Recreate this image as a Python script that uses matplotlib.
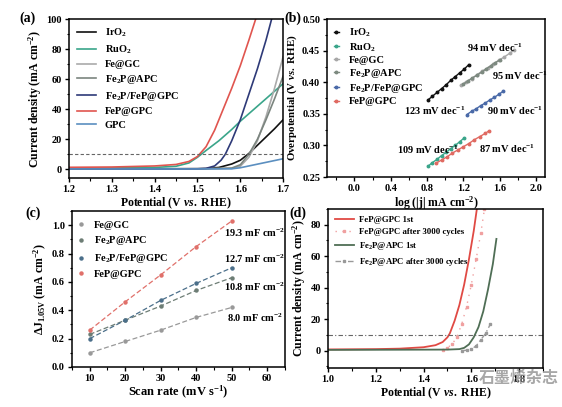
import matplotlib
matplotlib.use("Agg")
import matplotlib.pyplot as plt
from matplotlib.ticker import MultipleLocator, FormatStrFormatter

plt.rcParams['font.family'] = ['Liberation Serif', 'DejaVu Serif']
plt.rcParams['font.weight'] = 'bold'
plt.rcParams['axes.labelweight'] = 'bold'
plt.rcParams['mathtext.fontset'] = 'custom'
plt.rcParams['mathtext.rm'] = 'Liberation Serif:bold'
plt.rcParams['mathtext.it'] = 'Liberation Serif:italic:bold'
plt.rcParams['mathtext.bf'] = 'Liberation Serif:bold'
plt.rcParams['axes.linewidth'] = 1.1

# ---------------- Panel (a) data: LSV curves ----------------
irO2_v = [1.20, 1.40, 1.52, 1.55, 1.58, 1.60, 1.62, 1.64, 1.66, 1.68, 1.70]
irO2_j = [0.3, 0.3, 0.4, 1.2, 3.5, 6.0, 10.5, 16.0, 21.5, 27.0, 33.0]
ruO2_v = [1.20, 1.40, 1.45, 1.48, 1.50, 1.52, 1.55, 1.58, 1.60, 1.63, 1.66, 1.70]
ruO2_j = [0.5, 1.2, 2.0, 4.2, 8.0, 12.5, 19.0, 26.5, 32.0, 39.5, 47.0, 57.0]
fegc_v = [1.20, 1.50, 1.58, 1.60, 1.62, 1.64, 1.66, 1.68, 1.70]
fegc_j = [0.3, 0.3, 0.5, 2.0, 8.0, 19.0, 35.0, 54.0, 75.0]
fe2p_v = [1.20, 1.50, 1.58, 1.60, 1.62, 1.64, 1.66, 1.68, 1.70]
fe2p_j = [0.3, 0.3, 0.8, 3.0, 10.0, 20.0, 33.0, 47.0, 62.0]
fe2pfep_v = [1.20, 1.50, 1.52, 1.54, 1.555, 1.565, 1.58, 1.60, 1.62, 1.64, 1.66, 1.674]
fe2pfep_j = [0.2, 0.3, 0.6, 2.2, 6.0, 10.0, 19.0, 33.0, 50.0, 67.0, 86.0, 101.0]
fep_v = [1.20, 1.30, 1.40, 1.45, 1.48, 1.50, 1.52, 1.54, 1.56, 1.58, 1.60, 1.62, 1.637]
fep_j = [1.3, 1.5, 2.2, 3.2, 5.2, 8.5, 15.0, 26.0, 40.0, 54.0, 69.0, 86.0, 101.0]
gpc_v = [1.20, 1.50, 1.58, 1.60, 1.65, 1.70]
gpc_j = [0.2, 0.2, 0.3, 1.0, 4.0, 7.0]

# ---------------- Panel (b) data: Tafel plots ----------------
tafel_ir_x = [0.81, 0.86, 0.91, 0.96, 1.01, 1.06, 1.11, 1.16, 1.21, 1.26]
tafel_ir_y = [0.372, 0.378, 0.384, 0.390, 0.396, 0.403, 0.409, 0.415, 0.421, 0.428]
tafel_ru_x = [0.81, 0.86, 0.91, 0.96, 1.01, 1.06, 1.11, 1.16, 1.21]
tafel_ru_y = [0.267, 0.273, 0.278, 0.284, 0.289, 0.295, 0.300, 0.306, 0.312]
tafel_fegc_x = [1.17, 1.23, 1.29, 1.35, 1.41, 1.47, 1.53, 1.59, 1.65, 1.71, 1.76]
tafel_fegc_y = [0.395, 0.401, 0.406, 0.412, 0.418, 0.423, 0.429, 0.435, 0.440, 0.446, 0.451]
tafel_fe2p_x = [1.20, 1.25, 1.30, 1.35, 1.40, 1.45, 1.50, 1.55, 1.60]
tafel_fe2p_y = [0.397, 0.402, 0.407, 0.411, 0.416, 0.421, 0.426, 0.431, 0.435]
tafel_fe2pfep_x = [1.24, 1.29, 1.34, 1.39, 1.44, 1.49, 1.54, 1.59, 1.64]
tafel_fe2pfep_y = [0.349, 0.354, 0.358, 0.363, 0.367, 0.372, 0.376, 0.381, 0.386]
tafel_fep_x = [0.90, 0.96, 1.02, 1.08, 1.14, 1.20, 1.26, 1.32, 1.38, 1.44, 1.48]
tafel_fep_y = [0.272, 0.277, 0.282, 0.288, 0.293, 0.298, 0.303, 0.309, 0.314, 0.319, 0.323]
tafel_labels = ["94 mV dec$^{-1}$", "95 mV dec$^{-1}$", "123 mV dec$^{-1}$",
                "90 mV dec$^{-1}$", "109 mV dec$^{-1}$", "87 mV dec$^{-1}$"]

# ---------------- Panel (c) data: double-layer capacitance ----------------
scan_rate = [10, 20, 30, 40, 50]
dj_fegc = [0.10, 0.18, 0.26, 0.35, 0.42]
dj_fe2p = [0.23, 0.33, 0.43, 0.54, 0.63]
dj_fe2pfep = [0.20, 0.33, 0.47, 0.59, 0.70]
dj_fep = [0.26, 0.46, 0.65, 0.85, 1.03]
cdl_labels = ["19.3 mF cm$^{-2}$", "12.7 mF cm$^{-2}$", "10.8 mF cm$^{-2}$", "8.0 mF cm$^{-2}$"]

# ---------------- Panel (d) data: stability ----------------
d_fep1_v = [1.00, 1.20, 1.30, 1.40, 1.45, 1.48, 1.50, 1.51, 1.53, 1.55, 1.57, 1.59, 1.61, 1.625]
d_fep1_j = [0.8, 1.0, 1.3, 2.2, 3.5, 5.5, 8.5, 11.0, 19.0, 29.0, 42.0, 58.0, 76.0, 92.0]
d_fep2_v = [1.48, 1.50, 1.52, 1.54, 1.56, 1.58, 1.60, 1.62, 1.64, 1.655]
d_fep2_j = [0.5, 2.0, 4.0, 9.0, 17.0, 28.0, 42.0, 58.0, 75.0, 90.0]
d_fe2p1_v = [1.00, 1.50, 1.55, 1.57, 1.59, 1.61, 1.63, 1.65, 1.67, 1.69, 1.705]
d_fe2p1_j = [0.5, 0.7, 1.0, 1.8, 4.0, 8.5, 15.0, 25.0, 39.0, 55.0, 71.0]
d_fe2p2_v = [1.56, 1.58, 1.60, 1.62, 1.64, 1.66, 1.68]
d_fe2p2_j = [0.0, 0.3, 1.0, 3.0, 7.0, 11.0, 17.0]

C_IR, C_RU, C_FEGC, C_FE2P = '#111111', '#3aa58a', '#aaaaaa', '#7b857f'
C_FE2PFEP, C_FEP, C_GPC = '#2e3a78', '#e0554f', '#5b8fc0'

fig = plt.figure(figsize=(5.62, 4.07), dpi=100)
fig.patch.set_facecolor('white')

def style(ax, xmaj, xmin, ymaj, ymin):
    ax.xaxis.set_major_locator(MultipleLocator(xmaj))
    ax.xaxis.set_minor_locator(MultipleLocator(xmin))
    ax.yaxis.set_major_locator(MultipleLocator(ymaj))
    ax.yaxis.set_minor_locator(MultipleLocator(ymin))
    ax.tick_params(which='major', direction='out', length=3, width=1, labelsize=7.5, pad=2)
    ax.tick_params(which='minor', direction='out', length=1.8, width=0.8)
    for lab in ax.get_xticklabels() + ax.get_yticklabels():
        lab.set_fontweight('bold')

# ---- (a)
axa = fig.add_axes([0.1228, 0.562, 0.381, 0.391])
axa.plot(irO2_v, irO2_j, color=C_IR, lw=1.2, label='IrO$_\\mathregular{2}$')
axa.plot(ruO2_v, ruO2_j, color=C_RU, lw=1.2, label='RuO$_\\mathregular{2}$')
axa.plot(fegc_v, fegc_j, color=C_FEGC, lw=1.2, label='Fe@GC')
axa.plot(fe2p_v, fe2p_j, color=C_FE2P, lw=1.2, label='Fe$_\\mathregular{2}$P@APC')
axa.plot(fe2pfep_v, fe2pfep_j, color=C_FE2PFEP, lw=1.2, label='Fe$_\\mathregular{2}$P/FeP@GPC')
axa.plot(fep_v, fep_j, color=C_FEP, lw=1.2, label='FeP@GPC')
axa.plot(gpc_v, gpc_j, color=C_GPC, lw=1.2, label='GPC')
axa.axhline(10, color='#666666', lw=0.8, ls=(0, (3, 2)))
axa.set_xlim(1.2, 1.7)
axa.set_ylim(-6, 100)
style(axa, 0.1, 0.05, 20, 10)
axa.set_xlabel('Potential (V $\\mathit{vs.}$ RHE)', fontsize=8.5, labelpad=1)
axa.set_ylabel('Current density (mA cm$^{-2}$)', fontsize=8.5, labelpad=2)
axa.legend(loc='upper left', frameon=False, fontsize=7.5, handlelength=1.8,
           labelspacing=0.38, borderaxespad=0.35, handletextpad=0.9)
fig.text(0.035, 0.955, '(a)', fontsize=10, fontweight='bold', va='center')

# ---- (b)
axb = fig.add_axes([0.582, 0.565, 0.388, 0.388])
axb.plot(tafel_ir_x, tafel_ir_y, color=C_IR, lw=1, marker='o', ms=1.8, label='IrO$_\\mathregular{2}$')
axb.plot(tafel_ru_x, tafel_ru_y, color='#3aa58a', lw=1, marker='o', ms=1.8, label='RuO$_\\mathregular{2}$')
axb.plot(tafel_fegc_x, tafel_fegc_y, color='#a8a8a8', lw=1, marker='o', ms=1.8, label='Fe@GC')
axb.plot(tafel_fe2p_x, tafel_fe2p_y, color='#7d8a80', lw=1, marker='o', ms=1.8, label='Fe$_\\mathregular{2}$P@APC')
axb.plot(tafel_fe2pfep_x, tafel_fe2pfep_y, color='#4a6aa8', lw=1, marker='o', ms=1.8, label='Fe$_\\mathregular{2}$P/FeP@GPC')
axb.plot(tafel_fep_x, tafel_fep_y, color='#e06a62', lw=1, marker='o', ms=1.8, label='FeP@GPC')
axb.set_xlim(-0.3, 2.1)
axb.set_ylim(0.25, 0.50)
style(axb, 0.4, 0.2, 0.05, 0.025)
axb.yaxis.set_major_formatter(FormatStrFormatter('%.2f'))
axb.xaxis.set_major_formatter(FormatStrFormatter('%.1f'))
axb.set_xlabel('log (|j| mA cm$^{-2}$)', fontsize=8.5, labelpad=1)
axb.set_ylabel('Overpotential (V $\\mathit{vs.}$ RHE)', fontsize=7.8, labelpad=2)
axb.legend(loc='upper left', frameon=False, fontsize=7.5, handlelength=0.4, numpoints=1,
           labelspacing=0.2, borderaxespad=0.3, handletextpad=1.0)
txtpos_b = [(1.24, 0.455), (1.51, 0.411), (0.55, 0.355), (1.455, 0.355), (0.475, 0.293), (1.37, 0.295)]
for (tx, ty), s in zip(txtpos_b, tafel_labels):
    axb.text(tx, ty, s, fontsize=7.5, fontweight='bold', va='center', ha='left')
fig.text(0.506, 0.955, '(b)', fontsize=10, fontweight='bold', va='center')

# ---- (c)
axc = fig.add_axes([0.128, 0.0983, 0.379, 0.383])
axc.plot(scan_rate, dj_fegc, color='#999999', lw=0.9, ls=(0, (4, 2)), marker='o', ms=2.2, label='Fe@GC')
axc.plot(scan_rate, dj_fe2p, color='#6d7d75', lw=0.9, ls=(0, (4, 2)), marker='o', ms=2.2, label='Fe$_\\mathregular{2}$P@APC')
axc.plot(scan_rate, dj_fe2pfep, color='#4b6f8a', lw=0.9, ls=(0, (4, 2)), marker='o', ms=2.2, label='Fe$_\\mathregular{2}$P/FeP@GPC')
axc.plot(scan_rate, dj_fep, color='#e0706a', lw=0.9, ls=(0, (4, 2)), marker='o', ms=2.2, label='FeP@GPC')
axc.set_xlim(5, 65)
axc.set_ylim(0, 1.1)
style(axc, 10, 5, 0.2, 0.1)
axc.yaxis.set_major_formatter(FormatStrFormatter('%.1f'))
axc.set_xlabel('Scan rate (mV s$^{-1}$)', fontsize=9, labelpad=1)
axc.set_ylabel('$\\Delta$J$_\\mathregular{1.05V}$ (mA cm$^{-2}$)', fontsize=8.5, labelpad=2)
axc.legend(loc='upper left', frameon=False, fontsize=7.5, handlelength=0.0,
           labelspacing=0.45, borderaxespad=0.5, handletextpad=1.2)
txtpos_c = [(47.7, 0.948), (47.7, 0.761), (47.7, 0.569), (48.6, 0.344)]
for (tx, ty), s in zip(txtpos_c, cdl_labels):
    axc.text(tx, ty, s, fontsize=7.5, fontweight='bold', va='center', ha='left')
fig.text(0.045, 0.475, '(c)', fontsize=10, fontweight='bold', va='center')

# ---- (d)
axd = fig.add_axes([0.5836, 0.0958, 0.3826, 0.3907])
axd.plot(d_fep1_v, d_fep1_j, color='#e04a44', lw=1.3, label='FeP@GPC 1st')
axd.plot(d_fep2_v, d_fep2_j, color='#f0a0a0', lw=1.0, ls=(0, (1, 4)), marker='s', ms=1.8,
         label='FeP@GPC after 3000 cycles')
axd.plot(d_fe2p1_v, d_fe2p1_j, color='#4f6e55', lw=1.3, label='Fe$_\\mathregular{2}$P@APC 1st')
axd.plot(d_fe2p2_v, d_fe2p2_j, color='#999999', lw=1.0, ls=(0, (4, 2, 1, 2)), marker='s', ms=1.5,
         label='Fe$_\\mathregular{2}$P@APC after 3000 cycles')
axd.axhline(10, color='#666666', lw=0.8, ls=(0, (4, 2, 1, 2)))
axd.set_xlim(1.0, 1.9)
axd.set_ylim(-11, 90)
style(axd, 0.2, 0.1, 20, 10)
axd.xaxis.set_major_formatter(FormatStrFormatter('%.1f'))
axd.set_xlabel('Potential (V $\\mathit{vs.}$ RHE)', fontsize=8.5, labelpad=1)
axd.set_ylabel('Current density (mA cm$^{-2}$)', fontsize=8.5, labelpad=2)
axd.legend(loc='upper left', frameon=False, fontsize=6.3, handlelength=2.2,
           labelspacing=0.45, borderaxespad=0.35, handletextpad=0.6)
fig.text(0.515, 0.477, '(d)', fontsize=10, fontweight='bold', va='center')

# watermark
fig.text(0.923, 0.072, '石墨烯杂志', fontsize=11.5, color='#8a8a8a', alpha=0.75,
         family=['Noto Sans CJK SC', 'DejaVu Sans'], ha='center', va='center')

fig.savefig('out.png', dpi=100, facecolor='white')
